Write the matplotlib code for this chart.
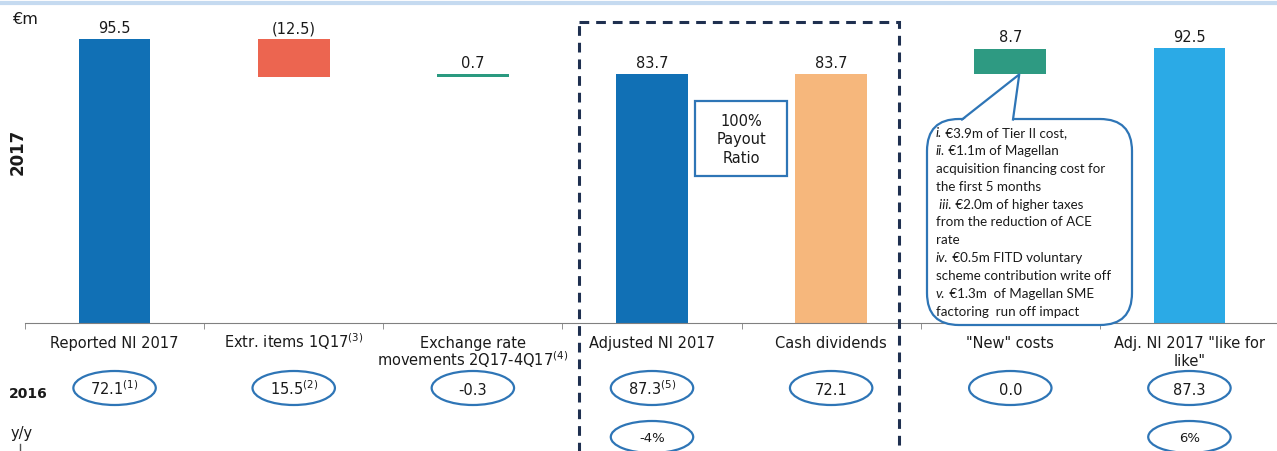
import numpy as np
import matplotlib
matplotlib.use("Agg")
import matplotlib.pyplot as plt
from matplotlib import transforms
from matplotlib.patches import Ellipse, Rectangle, FancyBboxPatch, Polygon

plt.rcParams['font.family'] = ['DejaVu Sans']
plt.rcParams['mathtext.default'] = 'regular'
plt.rcParams['lines.scale_dashes'] = False

# data
categories = ["Reported NI 2017", "Extr. items 1Q17$^{(3)}$",
              "Exchange rate\nmovements 2Q17-4Q17$^{(4)}$", "Adjusted NI 2017",
              "Cash dividends", '"New" costs', 'Adj. NI 2017 "like for\nlike"']
values_2017 = [95.5, -12.5, 0.7, 83.7, 83.7, 8.7, 92.5]
is_total = [True, False, False, True, True, False, True]
bar_colors = ['#1170B5', '#EC6550', '#2A9A80', '#1170B5', '#F6B77C', '#2E9A82', '#2BAAE6']
values_2016 = ["72.1", "15.5", "-0.3", "87.3", "72.1", "0.0", "87.3"]
notes_2016 = ["(1)", "(2)", "", "(5)", "", "", ""]
yoy = ["", "", "", "-4%", "", "", "6%"]
callout_lines = [("i.", " €3.9m of Tier II cost,"),
                 ("ii.", " €1.1m of Magellan"),
                 ("", "acquisition financing cost for"),
                 ("", "the first 5 months"),
                 (" iii.", " €2.0m of higher taxes"),
                 ("", "from the reduction of ACE"),
                 ("", "rate"),
                 ("iv.", " €0.5m FITD voluntary"),
                 ("", "scheme contribution write off"),
                 ("v.", " €1.3m  of Magellan SME"),
                 ("", "factoring  run off impact")]

TXT = '#1a1a1a'
OUTLINE = '#2E75B6'
CALLOUT_FONT = ['Lato', 'DejaVu Sans']

fig = plt.figure(figsize=(12.77, 4.52), dpi=100)
ax = fig.add_axes([25 / 1277, 128 / 452, 1254 / 1277, 324 / 452])

# waterfall bars
bottoms, heights = [], []
running = 0
for v, tot in zip(values_2017, is_total):
    if tot:
        bottoms.append(0)
        heights.append(v)
        running = v
    elif v < 0:
        bottoms.append(running + v)
        heights.append(-v)
        running += v
    else:
        bottoms.append(running)
        heights.append(v)
        running += v

x = np.arange(len(categories))
ax.bar(x, heights, bottom=bottoms, width=0.4, color=bar_colors)
for i, v in enumerate(values_2017):
    lbl = f"({abs(v)})" if v < 0 else f"{v}"
    ax.annotate(lbl, (i, bottoms[i] + heights[i]), xytext=(0, 3),
                textcoords='offset points', ha='center', va='bottom',
                fontsize=10.5, color=TXT)

ax.set_xlim(-0.5, 6.5)
ax.set_ylim(0, 109.1)
for s in ['top', 'right', 'left']:
    ax.spines[s].set_visible(False)
ax.spines['bottom'].set_color('#808080')
ax.set_yticks([])
ax.set_xticks(x, [""] * len(x))
ax.set_xticks(np.arange(-0.5, 7, 1), minor=True)
ax.tick_params(axis='x', which='major', length=0)
ax.tick_params(axis='x', which='minor', length=4, color='#808080')

# overlay in pixel coordinates for the slide furniture
ov = fig.add_axes([0, 0, 1, 1], zorder=3)
ov.set_xlim(0, 1277)
ov.set_ylim(452, 0)
ov.axis('off')

ov.plot([0, 1277], [4, 4], color='#C5DAF0', lw=3)
ov.text(12, 20, "€m", fontsize=11.5, va='center', color=TXT)
ov.text(18, 152, "2017", rotation=90, fontsize=12, fontweight='bold',
        ha='center', va='center', color=TXT)
ov.text(9, 394, "2016", fontsize=10, fontweight='bold', va='center', color=TXT)
ov.text(11, 434, "y/y", fontsize=10.5, va='center', color=TXT)
ov.plot([20, 20], [445, 452], color='#555555', lw=1)

# category labels, 2016 and y/y rows under each category
row_tr = transforms.blended_transform_factory(ax.transData, ov.transData)
for i in range(len(categories)):
    for j, line in enumerate(categories[i].split("\n")):
        ov.text(i, 348 + j * 18, line, transform=row_tr, ha='center',
                va='baseline', fontsize=10.5, color=TXT)
    ov.add_patch(Ellipse((i, 389), 0.46, 34, transform=row_tr, fill=False,
                         ec=OUTLINE, lw=1.6))
    lbl = values_2016[i] + (f"$^{{{notes_2016[i]}}}$" if notes_2016[i] else "")
    ov.text(i, 395, lbl, transform=row_tr, ha='center', va='baseline',
            fontsize=10.5, color=TXT)
    if yoy[i]:
        ov.add_patch(Ellipse((i, 438), 0.46, 32, transform=row_tr, fill=False,
                             ec=OUTLINE, lw=1.6))
        ov.text(i, 439, yoy[i], transform=row_tr, ha='center', va='center',
                fontsize=9.5, color=TXT)

# dashed box round adjusted NI / dividends
ov.add_patch(Rectangle((579, 23), 320, 450, fill=False, ec='#1F3050', lw=2.2,
                       ls=(0, (7, 5)), clip_on=False))

# payout ratio box
ov.add_patch(Rectangle((695, 102), 92, 75, fc='white', ec=OUTLINE, lw=1.6))
ov.text(741, 140, "100%\nPayout\nRatio", ha='center', va='center',
        fontsize=10.5, linespacing=1.3, color=TXT)

# speech bubble for the "new" costs
tip = ov.transData.inverted().transform(ax.transData.transform((5.05, 83.7)))
ov.add_patch(FancyBboxPatch((927, 120), 205, 206,
                            boxstyle='round,pad=0,rounding_size=32',
                            fc='white', ec=OUTLINE, lw=1.6, zorder=2))
ov.add_patch(Polygon([(962, 122), tuple(tip), (1013, 122)], closed=True,
                     fc='white', ec='none', zorder=3))
ov.plot([962, tip[0], 1013], [120.5, tip[1], 120.5], color=OUTLINE, lw=1.6, zorder=4)

for k, (pre, rest) in enumerate(callout_lines):
    yb = 137 + k * 17.9
    if pre:
        t = ov.text(936, yb, pre, fontsize=9.6, family=CALLOUT_FONT,
                    style='italic', va='baseline', color=TXT, zorder=5)
        ov.annotate(rest, xy=(1, yb), xycoords=(t, 'data'), fontsize=9.6,
                    family=CALLOUT_FONT, va='baseline', ha='left',
                    color=TXT, zorder=5)
    else:
        ov.text(936, yb, rest, fontsize=9.6, family=CALLOUT_FONT,
                va='baseline', color=TXT, zorder=5)

fig.savefig("out.png", dpi=100)
